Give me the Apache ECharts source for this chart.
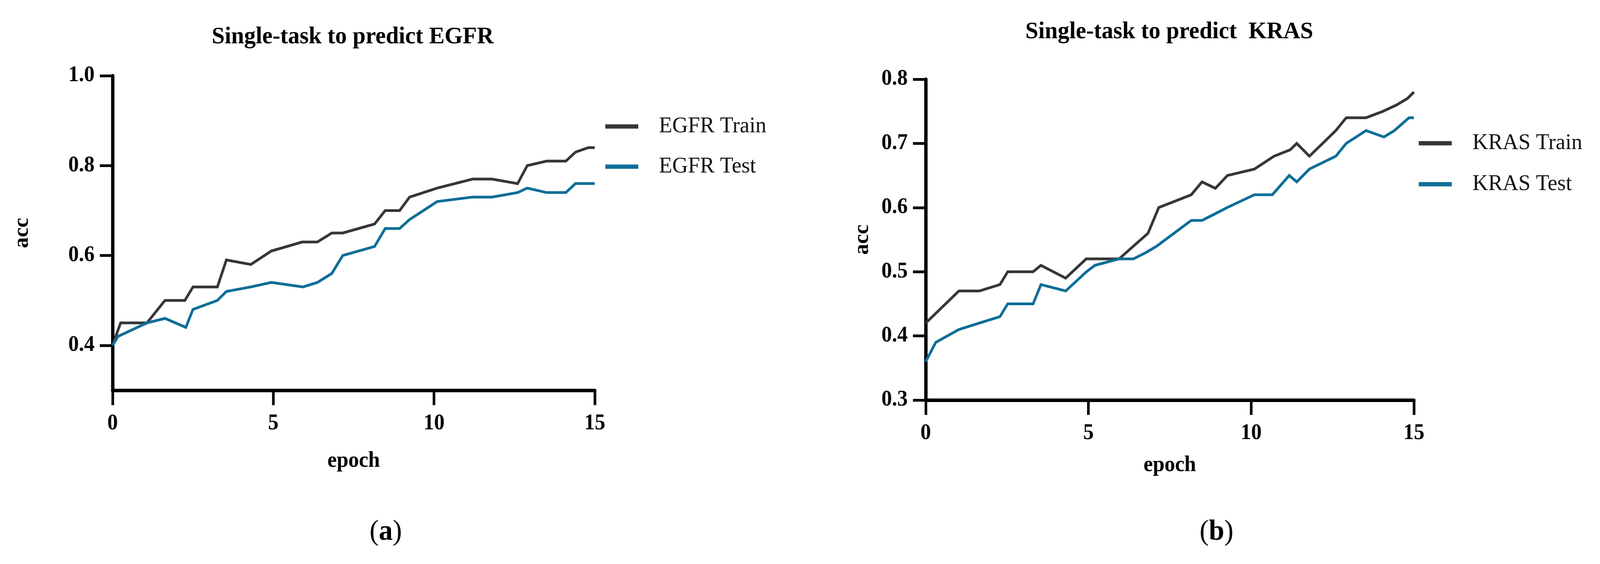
<!DOCTYPE html>
<html>
<head>
<meta charset="utf-8">
<script src="https://cdn.jsdelivr.net/npm/echarts@6/dist/echarts.min.js"></script>
<style>
html,body{margin:0;padding:0;background:#fff;overflow:hidden;}
#chart{width:4264px;height:1445px;transform-origin:0 0;}
</style>
</head>
<body>
<div id="chart"></div>
<script>
// ---- data ----
const egfrTrainEpoch = [0, 0.25, 1.07, 1.63, 2.25, 2.5, 3.26, 3.54, 4.3, 4.94, 5.9, 6.37, 6.82, 7.16, 8.15, 8.48, 8.93, 9.24, 10.1, 11.2, 11.8, 12.6, 12.9, 13.5, 14.1, 14.4, 14.8, 15];
const egfrTrainAcc   = [0.40, 0.45, 0.45, 0.50, 0.50, 0.53, 0.53, 0.59, 0.58, 0.61, 0.63, 0.63, 0.65, 0.65, 0.67, 0.70, 0.70, 0.73, 0.75, 0.77, 0.77, 0.76, 0.80, 0.81, 0.81, 0.83, 0.84, 0.84];
const egfrTestEpoch  = [0, 0.17, 1.07, 1.63, 2.28, 2.5, 3.26, 3.54, 4.3, 4.94, 5.92, 6.37, 6.82, 7.16, 8.15, 8.48, 8.93, 9.24, 10.1, 11.2, 11.8, 12.6, 12.9, 13.5, 14.1, 14.4, 15];
const egfrTestAcc    = [0.40, 0.42, 0.45, 0.46, 0.44, 0.48, 0.50, 0.52, 0.53, 0.54, 0.53, 0.54, 0.56, 0.60, 0.62, 0.66, 0.66, 0.68, 0.72, 0.73, 0.73, 0.74, 0.75, 0.74, 0.74, 0.76, 0.76];

const krasTrainEpoch = [0, 1.02, 1.65, 2.28, 2.52, 3.3, 3.54, 4.3, 4.93, 5.94, 6.83, 7.16, 8.16, 8.49, 8.9, 9.27, 10.1, 10.7, 11.2, 11.4, 11.79, 12.6, 12.92, 13.53, 14.05, 14.47, 14.8, 15];
const krasTrainAcc   = [0.42, 0.47, 0.47, 0.48, 0.50, 0.50, 0.51, 0.49, 0.52, 0.52, 0.56, 0.60, 0.62, 0.64, 0.63, 0.65, 0.66, 0.68, 0.69, 0.70, 0.68, 0.72, 0.74, 0.74, 0.75, 0.76, 0.77, 0.78];
const krasTestEpoch  = [0, 0.31, 1.02, 1.65, 2.28, 2.52, 3.3, 3.54, 4.3, 4.94, 5.2, 5.94, 6.38, 6.77, 7.1, 8.16, 8.49, 8.88, 9.26, 10.1, 10.65, 11.17, 11.4, 11.79, 12.6, 12.92, 13.53, 14.08, 14.4, 14.85, 15];
const krasTestAcc    = [0.36, 0.39, 0.41, 0.42, 0.43, 0.45, 0.45, 0.48, 0.47, 0.50, 0.51, 0.52, 0.52, 0.53, 0.54, 0.58, 0.58, 0.59, 0.60, 0.62, 0.62, 0.65, 0.64, 0.66, 0.68, 0.70, 0.72, 0.71, 0.72, 0.74, 0.74];

const xTicks = [0, 5, 10, 15];
const egfrYTicks = [0.4, 0.6, 0.8, 1.0];
const krasYTicks = [0.3, 0.4, 0.5, 0.6, 0.7, 0.8];

const titles = ['Single-task to predict EGFR', 'Single-task to predict  KRAS'];
const seriesNames = [['EGFR Train', 'EGFR Test'], ['KRAS Train', 'KRAS Test']];
const panelLetters = ['a', 'b'];

// ---- styling ----
const FONT = "'Liberation Serif', 'Times New Roman', serif";
const TRAIN_COLOR = '#363636';
const TEST_COLOR = '#0e6e97';
const DESIGN_W = 4264;

// fit the 4264-wide figure into the actual viewport width
const el = document.getElementById('chart');
const fit = Math.min(1, (window.innerWidth || DESIGN_W) / DESIGN_W);
if (fit < 1) el.style.transform = 'scaleX(' + fit + ')';

function pairs(xs, ys) { return xs.map((x, i) => [x, ys[i]]); }

function xAxisCfg(gridIndex, nameGap) {
  return {
    type: 'value', gridIndex: gridIndex, min: 0, max: 15, interval: 5,
    axisTick: { show: true, length: 38, customValues: xTicks, lineStyle: { color: '#000', width: 7 } },
    axisLabel: { show: true, margin: 58, customValues: xTicks, fontFamily: FONT, fontWeight: 'bold', fontSize: 56, color: '#000' },
    name: 'epoch', nameLocation: 'middle', nameGap: nameGap,
    nameTextStyle: { fontFamily: FONT, fontWeight: 'bold', fontSize: 56, color: '#000' },
    axisLine: { show: true, onZero: false, lineStyle: { color: '#000', width: 9 } },
    splitLine: { show: false }
  };
}

function yAxisCfg(gridIndex, min, max, ticks, nameGap) {
  return {
    type: 'value', gridIndex: gridIndex, min: min, max: max,
    name: 'acc', nameLocation: 'middle', nameGap: nameGap,
    nameTextStyle: { fontFamily: FONT, fontWeight: 'bold', fontSize: 56, color: '#000' },
    axisLine: { show: true, onZero: false, lineStyle: { color: '#000', width: 9 } },
    axisTick: { show: true, length: 34, customValues: ticks, lineStyle: { color: '#000', width: 7 } },
    axisLabel: { show: true, margin: 48, customValues: ticks, fontFamily: FONT, fontWeight: 'bold', fontSize: 56, color: '#000',
      formatter: v => Number(v).toFixed(1) },
    splitLine: { show: false }
  };
}

function lineSeries(name, xi, data, color) {
  return {
    type: 'line', name: name, xAxisIndex: xi, yAxisIndex: xi, data: data,
    symbol: 'none', showSymbol: false, smooth: false,
    lineStyle: { width: 7, color: color, join: 'miter' },
    itemStyle: { color: color }
  };
}

function legendCfg(names, left, top, gap) {
  return {
    data: names, orient: 'vertical', left: left, top: top, itemGap: gap, padding: 0,
    icon: 'rect', itemWidth: 88, itemHeight: 11, selectedMode: false,
    textStyle: { fontFamily: FONT, fontSize: 58, color: '#111', padding: [0, 0, 0, 50] }
  };
}

function textEl(x, y, text, size, weight) {
  return { type: 'text', x: x, y: y, silent: true,
    style: { text: text, font: weight + ' ' + size + 'px ' + FONT, fill: '#000',
      align: 'center', verticalAlign: 'middle', textAlign: 'center', textVerticalAlign: 'middle' } };
}

function panelLabel(x, y, letter) {
  return { type: 'text', x: x, y: y, silent: true,
    style: {
      text: '{p|(}{b|' + letter + '}{p|)}',
      align: 'center', verticalAlign: 'middle', textAlign: 'center', textVerticalAlign: 'middle',
      rich: {
        p: { fontFamily: FONT, fontSize: 74, fontWeight: 'normal', fill: '#000', color: '#000' },
        b: { fontFamily: FONT, fontSize: 74, fontWeight: 'bold', fill: '#000', color: '#000' }
      }
    } };
}

const chart = echarts.init(el, null, { renderer: 'canvas', width: DESIGN_W, height: 1445 });
chart.setOption({
  animation: false,
  backgroundColor: '#fff',
  grid: [
    { left: 300, top: 194, width: 1285, height: 806 },
    { left: 2467, top: 203, width: 1301, height: 822 }
  ],
  xAxis: [xAxisCfg(0, 154), xAxisCfg(1, 140)],
  yAxis: [
    yAxisCfg(0, 0.3, 1.0, egfrYTicks, 212),
    yAxisCfg(1, 0.3, 0.8, krasYTicks, 140)
  ],
  legend: [
    legendCfg(seriesNames[0], 1613, 295, 45),
    legendCfg(seriesNames[1], 3781, 338, 47)
  ],
  series: [
    lineSeries(seriesNames[0][0], 0, pairs(egfrTrainEpoch, egfrTrainAcc), TRAIN_COLOR),
    lineSeries(seriesNames[0][1], 0, pairs(egfrTestEpoch, egfrTestAcc), TEST_COLOR),
    lineSeries(seriesNames[1][0], 1, pairs(krasTrainEpoch, krasTrainAcc), TRAIN_COLOR),
    lineSeries(seriesNames[1][1], 1, pairs(krasTestEpoch, krasTestAcc), TEST_COLOR)
  ],
  graphic: [
    textEl(940, 95, titles[0], 62, 'bold'),
    textEl(3116, 82, titles[1], 62, 'bold'),
    panelLabel(1028, 1364, panelLetters[0]),
    panelLabel(3242, 1364, panelLetters[1])
  ]
});
</script>
</body>
</html>
